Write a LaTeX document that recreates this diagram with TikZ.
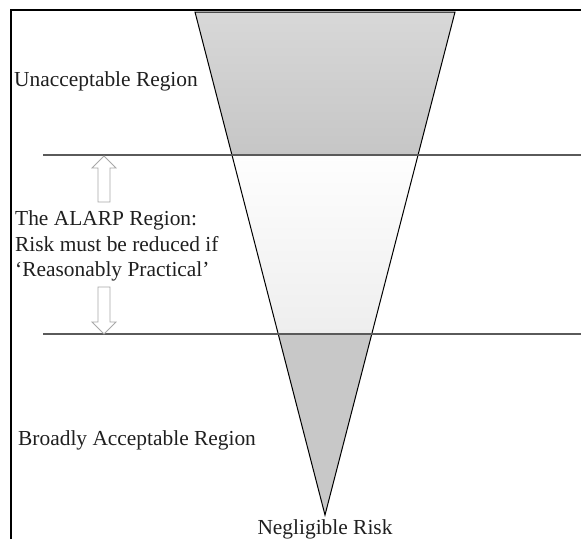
\documentclass[tikz,border=0pt]{standalone}
\usepackage{fontspec}
\setmainfont{Liberation Serif}
\usetikzlibrary{calc}
\definecolor{upperfill}{HTML}{D8D8D8}
\definecolor{upperfillb}{HTML}{C6C6C6}
\definecolor{midfill}{HTML}{FEFEFE}
\definecolor{midfillb}{HTML}{EEEEEE}
\definecolor{lowfill}{HTML}{C8C8C8}
\definecolor{bandline}{HTML}{5A5A5A}
\definecolor{arrowline}{HTML}{A8A8A8}
\begin{document}
\begin{tikzpicture}[x=1pt,y=-1pt,
  label/.style={inner sep=0pt, font=\fontsize{21.4}{25.5}\selectfont, text=black!88},
  edge/.style={draw=black, line width=1pt, line join=miter},
  band/.style={draw=bandline, line width=1.6pt},
  frame/.style={draw=black, line width=2.2pt},
  blockarrow/.style={draw=arrowline, fill=white, line width=0.8pt, line join=miter}]
\useasboundingbox (0,0) rectangle (581,539);

% triangle corners and band crossings
\coordinate (TL) at (195,12);
\coordinate (TR) at (455,12);
\coordinate (A)  at (325,515);
\coordinate (l1) at ($(TL)!0.28429!(A)$);
\coordinate (r1) at ($(TR)!0.28429!(A)$);
\coordinate (l2) at ($(TL)!0.64016!(A)$);
\coordinate (r2) at ($(TR)!0.64016!(A)$);

% region fills
\shade[top color=upperfill, bottom color=upperfillb] (TL) -- (TR) -- (r1) -- (l1) -- cycle;
\shade[top color=midfill, bottom color=midfillb] (l1) -- (r1) -- (r2) -- (l2) -- cycle;
\fill[lowfill] (l2) -- (r2) -- (A) -- cycle;
\draw[edge] (TL) -- (TR) -- (A) -- cycle;

% band boundaries
\coordinate (b1s) at (43,155);
\coordinate (b1e) at (581,155);
\coordinate (b2s) at (43,334);
\coordinate (b2e) at (581,334);
\draw[band] (b1s) -- (b1e);
\draw[band] (b2s) -- (b2e);

% frame
\coordinate (f1) at (11,539);
\coordinate (f2) at (11,10);
\coordinate (f3) at (581,10);
\draw[frame] (f1) -- (f2) -- (f3);

% hollow arrows
\draw[blockarrow] (104,156) -- (116,168) -- (110,168) -- (110,202) -- (98,202) -- (98,168) -- (92,168) -- cycle;
\draw[blockarrow] (98,287) -- (110,287) -- (110,322) -- (116,322) -- (104,334) -- (92,322) -- (98,322) -- cycle;

% labels
\node[label, anchor=base west] (unacc) at (14,86) {Unacceptable Region};
\node[label, anchor=north west, align=left] (alarp) at (15,210.5)
  {The ALARP Region:\\Risk must be reduced if\\‘Reasonably Practical’};
\node[label, anchor=base west] (broad) at (18,445) {Broadly Acceptable Region};
\node[label, anchor=base] (negl) at (325,534) {Negligible Risk};
\end{tikzpicture}
\end{document}
